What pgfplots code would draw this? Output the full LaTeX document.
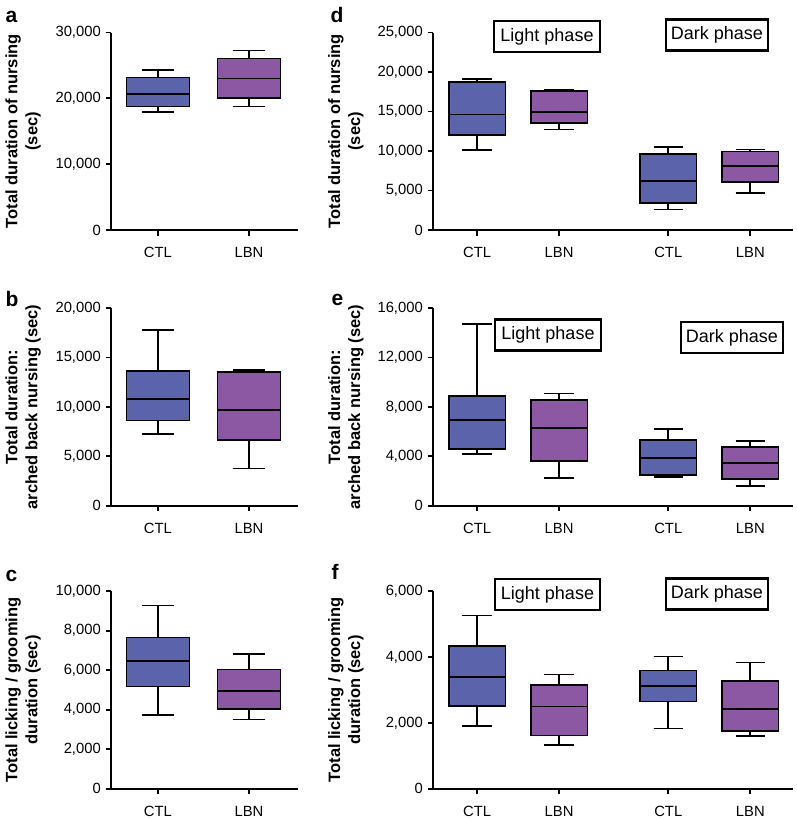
\documentclass[border=0pt]{standalone}
\usepackage{fontspec}
\setmainfont{Liberation Sans}
\usepackage{pgfplots}
\pgfplotsset{compat=1.18}
\usepgfplotslibrary{statistics}

\definecolor{ctl}{RGB}{91,99,171}
\definecolor{lbn}{RGB}{140,88,163}

% values are given in thousands of seconds
\pgfplotsset{
  panel/.style={
    scale only axis, height=197.5pt, ymin=0, clip=false,
    axis x line=bottom, axis y line=left,
    axis line style={line width=1.8pt, -},
    every tick/.style={line width=1.8pt, black},
    tick align=outside, major tick length=5.5pt,
    ticklabel style={font=\fontsize{14.8}{16}\selectfont},
    yticklabel style={inner sep=4.5pt},
    xticklabel style={yshift=-8.5pt},
    ylabel style={align=center, font=\bfseries\fontsize{16.5}{20}\selectfont, anchor=center},
    boxplot/every median/.style={line width=1.7pt},
    boxplot/every whisker/.style={line width=1.7pt},
  },
  lpanel/.style={panel, width=187pt, xmin=0.484, xmax=2.538,
    xtick={1,2}, xticklabels={CTL,LBN},
    ylabel style={at={(axis description cs:-0.47,0.5)}}},
  rpanel/.style={panel, width=360pt, xmin=0.463, xmax=4.85,
    xtick={1,2,3.33,4.33}, xticklabels={CTL,LBN,CTL,LBN},
    ylabel style={at={(axis description cs:-0.242,0.5)}}},
}
\tikzset{
  phase/.style={draw, line width=2.2pt, fill=white, inner sep=0pt,
    minimum height=31pt, font=\fontsize{18}{20}\selectfont},
  letter/.style={anchor=base west, font=\bfseries\fontsize{21}{22}\selectfont},
}

% position, lower whisker, lower quartile, median, upper quartile, upper whisker, colour
\newcommand{\bx}[7]{\addplot[boxplot prepared={draw direction=y, draw position=#1,
    lower whisker=#2, lower quartile=#3, median=#4,
    upper quartile=#5, upper whisker=#6,
    box extend=0.69, whisker extend=0.36},
  fill=#7, draw=black, line width=1.7pt] coordinates {};}

\begin{document}
\begin{tikzpicture}
\path[use as bounding box] (0,0) rectangle (796pt,-819pt);

% a
\begin{axis}[lpanel, at={(111pt,-230pt)}, anchor=south west,
  ymax=30, ytick={0,10,20,30}, yticklabels={0,{10,000},{20,000},{30,000}},
  ylabel={Total duration of nursing\\(sec)}]
\bx{1}{17.89}{18.75}{20.68}{23.16}{24.32}{ctl}
\bx{2}{18.75}{20.07}{23.01}{26.05}{27.26}{lbn}
\end{axis}

% d
\begin{axis}[rpanel, at={(433pt,-230pt)}, anchor=south west,
  ymax=25, ytick={0,5,10,15,20,25},
  yticklabels={0,{5,000},{10,000},{15,000},{20,000},{25,000}},
  ylabel={Total duration of nursing\\(sec)}]
\bx{1}{10.14}{12.04}{14.61}{18.71}{19.13}{ctl}
\bx{2}{12.71}{13.51}{14.91}{17.57}{17.69}{lbn}
\bx{3.33}{2.58}{3.42}{6.17}{9.63}{10.47}{ctl}
\bx{4.33}{4.69}{6.12}{8.07}{9.92}{10.18}{lbn}
\end{axis}

% b
\begin{axis}[lpanel, at={(111pt,-505.7pt)}, anchor=south west,
  ymax=20, ytick={0,5,10,15,20},
  yticklabels={0,{5,000},{10,000},{15,000},{20,000}},
  ylabel={Total duration:\\arched back nursing (sec)}]
\bx{1}{7.23}{8.62}{10.78}{13.62}{17.80}{ctl}
\bx{2}{3.78}{6.62}{9.70}{13.55}{13.72}{lbn}
\end{axis}

% e
\begin{axis}[rpanel, at={(433pt,-505.7pt)}, anchor=south west,
  ymax=16, ytick={0,4,8,12,16},
  yticklabels={0,{4,000},{8,000},{12,000},{16,000}},
  ylabel={Total duration:\\arched back nursing (sec)}]
\bx{1}{4.19}{4.60}{6.95}{8.87}{14.70}{ctl}
\bx{2}{2.22}{3.60}{6.27}{8.54}{9.08}{lbn}
\bx{3.33}{2.30}{2.46}{3.87}{5.30}{6.22}{ctl}
\bx{4.33}{1.60}{2.14}{3.46}{4.78}{5.22}{lbn}
\end{axis}

% c
\begin{axis}[lpanel, at={(111pt,-788.7pt)}, anchor=south west,
  ymax=10, ytick={0,2,4,6,8,10},
  yticklabels={0,{2,000},{4,000},{6,000},{8,000},{10,000}},
  ylabel={Total licking / grooming\\duration (sec)}]
\bx{1}{3.73}{5.18}{6.48}{7.66}{9.28}{ctl}
\bx{2}{3.51}{4.05}{4.96}{6.04}{6.83}{lbn}
\end{axis}

% f
\begin{axis}[rpanel, at={(433pt,-788.7pt)}, anchor=south west,
  ymax=6, ytick={0,2,4,6},
  yticklabels={0,{2,000},{4,000},{6,000}},
  ylabel={Total licking / grooming\\duration (sec)}]
\bx{1}{1.90}{2.52}{3.39}{4.34}{5.26}{ctl}
\bx{2}{1.33}{1.62}{2.50}{3.15}{3.47}{lbn}
\bx{3.33}{1.83}{2.65}{3.11}{3.59}{4.02}{ctl}
\bx{4.33}{1.60}{1.75}{2.43}{3.28}{3.83}{lbn}
\end{axis}

% phase labels
\node[phase, minimum width=106pt] at (547pt,-36.5pt) {Light phase};
\node[phase, minimum width=102pt] at (717pt,-35pt) {Dark phase};
\node[phase, minimum width=106pt] at (548pt,-335pt) {Light phase};
\node[phase, minimum width=102pt] at (732pt,-337.5pt) {Dark phase};
\node[phase, minimum width=105pt] at (547.5pt,-594.5pt) {Light phase};
\node[phase, minimum width=102pt] at (717pt,-594pt) {Dark phase};

% panel letters
\node[letter] at (2pt,-22pt) {a};
\node[letter] at (327pt,-22pt) {d};
\node[letter] at (2pt,-306pt) {b};
\node[letter] at (328pt,-305pt) {e};
\node[letter] at (2pt,-581pt) {c};
\node[letter] at (328pt,-579pt) {f};
\end{tikzpicture}
\end{document}
